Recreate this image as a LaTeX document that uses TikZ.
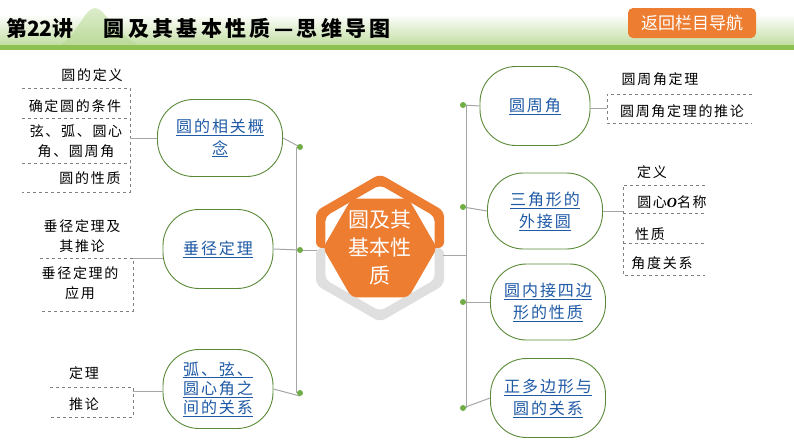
\documentclass[tikz,border=0pt]{standalone}
\usepackage{fontspec}
\setmainfont{Noto Sans CJK SC}
\newfontfamily\spaced[LetterSpace=12]{Noto Sans CJK SC}
\usetikzlibrary{shapes.geometric,calc}
\definecolor{gline}{HTML}{8DC152}
\definecolor{gnode}{HTML}{70AD47}
\definecolor{org}{HTML}{ED7D31}
\definecolor{lnk}{HTML}{1F5AA6}
\definecolor{spine}{HTML}{A6A6A6}
\tikzset{
 topic/.style={draw=gnode!80!black, line width=0.9pt, rounded corners=36pt, fill=white, align=center, font=\spaced\fontsize{16}{22}\selectfont, text=lnk},
 leaf/.style={font=\spaced\fontsize{14}{20}\selectfont, align=center, inner sep=0pt},
 dsh/.style={draw=gray, dashed, line width=0.7pt},
 con/.style={draw=spine, line width=1pt},
 dotg/.style={fill=gnode, circle, inner sep=0pt, minimum size=6pt},
}
\newcommand{\ul}[1]{\underline{#1}}
\begin{document}
\begin{tikzpicture}[x=1pt,y=-1pt]
\useasboundingbox (0,0) rectangle (794,447);
% header
\shade[top color=white, bottom color=gline!55] (0,14) rectangle (794,46);
\shade[top color=gline!30, bottom color=gline!60] (60,46) .. controls (80,30) and (85,8) .. (95,8) .. controls (105,8) and (110,30) .. (140,46) -- cycle;
\fill[gline] (0,45) rectangle (794,50);
\node[anchor=west, font=\bfseries\fontsize{21}{24}\selectfont, inner sep=0pt] (title) at (6,28) {第22讲\hspace{30pt}{\addfontfeatures{LetterSpace=16}圆及其基本性质—思维导图}};
\node[fill=org, rounded corners=5pt, minimum width=128pt, minimum height=30pt, text=white, font=\fontsize{17}{18}\selectfont] (back) at (692,23) {返回栏目导航};
% center hexagon
\coordinate (C) at (380,248);
\fill[org, rounded corners=6pt] ($(C)+(0,-74)$) -- ($(C)+(64,-37)$) -- ($(C)+(64,0)$) -- ($(C)+(-64,0)$) -- ($(C)+(-64,-37)$) -- cycle;
\fill[gray!25, rounded corners=6pt] ($(C)+(64,0)$) -- ($(C)+(64,37)$) -- ($(C)+(0,74)$) -- ($(C)+(-64,37)$) -- ($(C)+(-64,0)$) -- cycle;
\fill[white, rounded corners=5pt] ($(C)+(0,-63)$) -- ($(C)+(54.6,-31.5)$) -- ($(C)+(54.6,31.5)$) -- ($(C)+(0,63)$) -- ($(C)+(-54.6,31.5)$) -- ($(C)+(-54.6,-31.5)$) -- cycle;
\node[regular polygon, regular polygon sides=6, fill=org, minimum size=114pt, inner sep=0pt, rounded corners=5pt] (hex) at (C) {};
\node[text=white, align=center, font=\fontsize{21}{28}\selectfont] (hext) at (C) {圆及其\\基本性\\质};
% spines
\coordinate (LS1) at (300,147); \coordinate (LS2) at (300,250); \coordinate (LS3) at (300,393);
\coordinate (RS1) at (463,105); \coordinate (RS2) at (463,207); \coordinate (RS3) at (463,302); \coordinate (RS4) at (463,408);
\draw[con] (296,147) -- (296,393);
\draw[con] (466,105) -- (466,408);
\draw[con] (LS2) -- (317,250);
\draw[con] (443,255) -- (466,255);
% left topics
\node[topic, minimum width=125pt, minimum height=77pt] (t1) at (220,138) {\ul{圆的相关概}\\\ul{念}};
\node[topic, minimum width=110pt, minimum height=79pt] (t2) at (218,249) {\ul{垂径定理}};
\node[topic, minimum width=110pt, minimum height=79pt, font=\spaced\fontsize{16}{19}\selectfont] (t3) at (218,389) {\ul{弧、弦、}\\\ul{圆心角之}\\\ul{间的关系}};
\draw[con] (t1.east) -- (300,147);
\draw[con] (t2.east) -- (LS2);
\draw[con] (t3.east) -- (300,396);
\foreach \p in {LS1,LS2,LS3} \node[dotg] at (\p) {};
% right topics
\node[topic, minimum width=110pt, minimum height=79pt] (r1) at (535,106) {\ul{圆周角}};
\node[topic, minimum width=115pt, minimum height=76pt] (r2) at (545,211) {\ul{三角形的}\\\ul{外接圆}};
\node[topic, minimum width=115pt, minimum height=76pt] (r3) at (548,302) {\ul{圆内接四边}\\\ul{形的性质}};
\node[topic, minimum width=115pt, minimum height=79pt] (r4) at (548,398) {\ul{正多边形与}\\\ul{圆的关系}};
\draw[con] (RS1) -- (r1.west);
\draw[con] (RS2) -- (r2.west);
\draw[con] (RS3) -- (r3.west);
\draw[con] (RS4) -- (r4.west);
\foreach \p in {RS1,RS2,RS3,RS4} \node[dotg] at (\p) {};
% left leaves group 1
\node[leaf] (a1) at (92,75) {圆的定义};
\node[leaf] (a2) at (75,106) {确定圆的条件};
\node[leaf] (a3) at (76,141) {弦、弧、圆心\\角、圆周角};
\node[leaf] (a4) at (90,178) {圆的性质};
\coordinate (ab) at (130,138);
\draw[dsh] (22,88) -- (130,88) -- (130,192) -- (22,192);
\draw[dsh] (22,118) -- (130,118); \draw[dsh] (22,163) -- (130,163);
\draw[con] (ab) -- (t1.west);
% group 2
\node[leaf] (b1) at (82,236) {垂径定理及\\其推论};
\node[leaf] (b2) at (80,283) {垂径定理的\\应用};
\coordinate (bb) at (133,258);
\draw[dsh] (40,258) -- (133,258) -- (133,311) -- (40,311);
\draw[con] (bb) -- (t2.west|-bb);
% group 3
\node[leaf] (c1) at (84,373) {定理};
\node[leaf] (c2) at (84,404) {推论};
\coordinate (cb) at (133,391);
\draw[dsh] (50,387) -- (133,387) -- (133,417) -- (50,417);
\draw[con] (cb) -- (t3.west|-cb);
% right leaves group 1
\node[leaf] (d1) at (660,79) {圆周角定理};
\node[leaf] (d2) at (682,111) {圆周角定理的推论};
\coordinate (db) at (607,108);
\draw[dsh] (752,94) -- (607,94) -- (607,123) -- (752,123);
\draw[con] (r1.east|-db) -- (db);
% right group 2
\node[leaf] (e1) at (652,172) {定义};
\node[leaf] (e2) at (672,202) {圆心{\fontspec{Liberation Serif}\bfseries\itshape O}名称};
\node[leaf] (e3) at (650,234) {性质};
\node[leaf] (e4) at (662,263) {角度关系};
\coordinate (eb) at (623,213);
\draw[dsh] (705,185) -- (623,185) -- (623,275) -- (705,275);
\draw[dsh] (623,213) -- (705,213); \draw[dsh] (623,243) -- (705,243);
\draw[con] (r2.east) -- (623,211);
\end{tikzpicture}
\end{document}
